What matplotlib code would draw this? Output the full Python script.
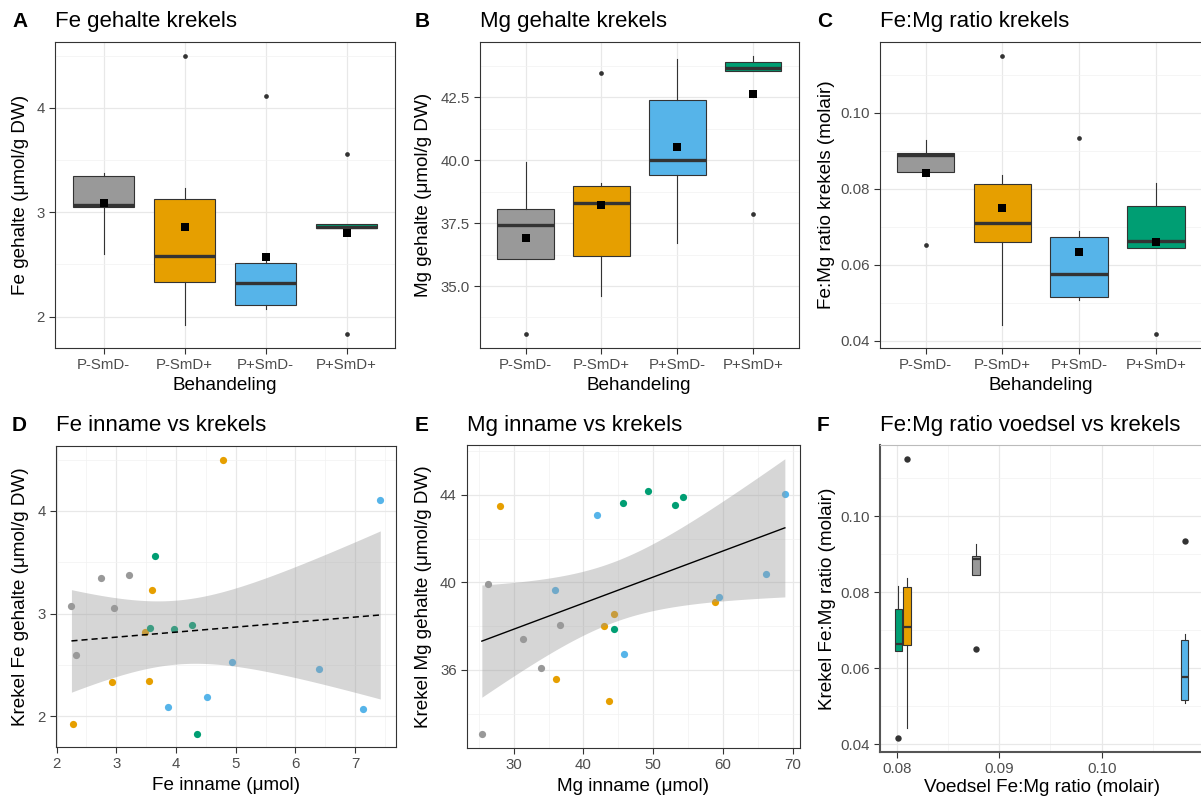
import numpy as np
import matplotlib
matplotlib.use("Agg")
import matplotlib.pyplot as plt

plt.rcParams['font.family'] = ['Liberation Sans', 'DejaVu Sans']

# ---------------- data (per cricket, grouped by treatment) ----------------
groups = ["P-SmD-", "P-SmD+", "P+SmD-", "P+SmD+"]
colors = ["#999999", "#E69F00", "#56B4E9", "#009E73"]

fe_inname = [[2.25, 2.32, 2.75, 2.97, 3.22],
             [2.28, 2.93, 3.48, 3.55, 3.60, 4.78],
             [3.87, 4.52, 4.93, 6.40, 7.13, 7.42],
             [3.57, 3.65, 3.96, 4.26, 4.35]]
fe_gehalte = [[3.07, 2.60, 3.35, 3.05, 3.38],
              [1.92, 2.33, 2.82, 2.34, 3.23, 4.50],
              [2.09, 2.19, 2.53, 2.46, 2.07, 4.11],
              [2.86, 3.56, 2.85, 2.89, 1.83]]
mg_inname = [[25.45, 26.3, 31.4, 33.9, 36.6],
             [28.1, 36.1, 43.0, 43.7, 44.4, 58.85],
             [35.9, 41.96, 45.8, 59.4, 66.2, 68.85],
             [44.4, 45.65, 49.3, 53.06, 54.3]]
mg_gehalte = [[33.08, 39.93, 37.43, 36.08, 38.05],
              [43.48, 35.58, 38.02, 34.60, 38.57, 39.11],
              [39.66, 43.06, 36.72, 39.34, 40.36, 44.03],
              [37.85, 43.64, 44.15, 43.54, 43.88]]
voedsel_ratio = [0.08775, 0.0810, 0.1081, 0.08016]

femg_ratio = [list(np.array(f) / np.array(m)) for f, m in zip(fe_gehalte, mg_gehalte)]

# ---------------- figure helpers ----------------
W, H = 1201, 800
fig = plt.figure(figsize=(W / 100, H / 100), dpi=100)
fig.patch.set_facecolor("white")


def px_axes(l, r, t, b):
    ax = fig.add_axes([l / W, 1 - b / H, (r - l) / W, (b - t) / H])
    ax._px = (l, r, t, b)
    return ax


def style(ax, xminor=None, yminor=None):
    for s in ax.spines.values():
        s.set_color("#333333")
        s.set_linewidth(0.8)
    ax.tick_params(which="major", length=4, width=0.8, color="#333333",
                   labelsize=10.8, labelcolor="#4D4D4D", pad=3.2)
    ax.tick_params(which="minor", length=0)
    if xminor is not None:
        ax.set_xticks(xminor, minor=True)
    if yminor is not None:
        ax.set_yticks(yminor, minor=True)
    ax.grid(which="major", color="#E8E8E8", lw=0.9)
    ax.grid(which="minor", color="#F2F2F2", lw=0.5)
    ax.set_axisbelow(True)


def labels(ax, tag, title, xlabel, ylabel, title_y, ylab_x, xlab_y, tag_x):
    l, r, t, b = ax._px
    fig.text(tag_x / W, 1 - title_y / H, tag, fontsize=15, fontweight="bold",
             ha="left", va="baseline")
    fig.text(l / W, 1 - title_y / H, title, fontsize=16, ha="left", va="baseline")
    ax.set_ylabel(ylabel, fontsize=13.6, va="center")
    ax.yaxis.set_label_coords((ylab_x - l) / (r - l), 0.5)
    ax.set_xlabel(xlabel, fontsize=13.6, va="center")
    ax.xaxis.set_label_coords(0.5, (b - xlab_y) / (b - t))


def boxes(ax, data, pos, width, flier_ms, med_lw, show_mean):
    bp = ax.boxplot(data, positions=pos, widths=width, patch_artist=True,
                    showcaps=False, whis=1.5, manage_ticks=False,
                    boxprops=dict(edgecolor="#333333", linewidth=0.8),
                    whiskerprops=dict(color="#333333", linewidth=0.8),
                    medianprops=dict(color="#333333", linewidth=med_lw),
                    flierprops=dict(marker="o", markersize=flier_ms,
                                    markerfacecolor="#333333",
                                    markeredgecolor="none"))
    for patch, c in zip(bp["boxes"], colors):
        patch.set_facecolor(c)
    if show_mean:
        ax.scatter(pos, [np.mean(d) for d in data], marker="s", s=28,
                   color="black", zorder=6, linewidths=0)


def lm_band(x, y, tval=2.086):
    x = np.asarray(x); y = np.asarray(y)
    n = len(x)
    b1, b0 = np.polyfit(x, y, 1)
    xs = np.linspace(x.min(), x.max(), 100)
    yh = b0 + b1 * xs
    s = np.sqrt(np.sum((y - (b0 + b1 * x)) ** 2) / (n - 2))
    se = s * np.sqrt(1 / n + (xs - x.mean()) ** 2 / np.sum((x - x.mean()) ** 2))
    return xs, yh, yh - tval * se, yh + tval * se


cat_pos = np.arange(1, len(groups) + 1)

# ---------------- A ----------------
axA = px_axes(55, 395.3, 41.7, 348.3)
boxes(axA, fe_gehalte, cat_pos, 0.75, 3.4, 2.4, True)
axA.set_xlim(0.4, 4.6)
axA.set_xticks(cat_pos, groups)
axA.set_yticks([2, 3, 4], ["2", "3", "4"])
style(axA, yminor=[2.5, 3.5, 4.5])
labels(axA, "A", "Fe gehalte krekels", "Behandeling", "Fe gehalte (\u03bcmol/g DW)",
       27, 20.5, 385, 12)

# ---------------- B ----------------
axB = px_axes(480, 798.5, 41.7, 348.3)
boxes(axB, mg_gehalte, cat_pos, 0.75, 3.4, 2.4, True)
axB.set_xlim(0.4, 4.6)
axB.set_xticks(cat_pos, groups)
axB.set_yticks([35, 37.5, 40, 42.5], ["35.0", "37.5", "40.0", "42.5"])
style(axB, yminor=[33.75, 36.25, 38.75, 41.25, 43.75])
labels(axB, "B", "Mg gehalte krekels", "Behandeling", "Mg gehalte (\u03bcmol/g DW)",
       27, 424, 385, 415)

# ---------------- C ----------------
axC = px_axes(879.5, 1202, 41.7, 348.3)
boxes(axC, femg_ratio, cat_pos, 0.75, 3.4, 2.4, True)
axC.set_xlim(0.4, 4.6)
axC.set_xticks(cat_pos, groups)
axC.set_yticks([0.04, 0.06, 0.08, 0.10], ["0.04", "0.06", "0.08", "0.10"])
style(axC, yminor=[0.05, 0.07, 0.09, 0.11])
labels(axC, "C", "Fe:Mg ratio krekels", "Behandeling", "Fe:Mg ratio krekels (molair)",
       27, 826.7, 385, 817)

# ---------------- D ----------------
axD = px_axes(56, 395.7, 446, 747.3)
for xi, yi, c in zip(fe_inname, fe_gehalte, colors):
    axD.scatter(xi, yi, s=27, color=c, linewidths=0, zorder=3)
xall = np.concatenate([np.array(v) for v in fe_inname])
yall = np.concatenate([np.array(v) for v in fe_gehalte])
xs, yh, lo, hi = lm_band(xall, yall)
axD.fill_between(xs, lo, hi, color="#999999", alpha=0.4, linewidth=0, zorder=4)
axD.plot(xs, yh, color="black", lw=1.1, ls=(0, (4, 2.6)), zorder=5)
axD.set_xticks([2, 3, 4, 5, 6, 7], ["2", "3", "4", "5", "6", "7"])
axD.set_yticks([2, 3, 4], ["2", "3", "4"])
style(axD, xminor=[2.5, 3.5, 4.5, 5.5, 6.5, 7.5], yminor=[2.5, 3.5, 4.5])
labels(axD, "D", "Fe inname vs krekels", "Fe inname (\u03bcmol)",
       "Krekel Fe gehalte (\u03bcmol/g DW)", 431, 20.7, 785, 12)

# ---------------- E ----------------
axE = px_axes(466.7, 800, 445, 747.7)
for xi, yi, c in zip(mg_inname, mg_gehalte, colors):
    axE.scatter(xi, yi, s=27, color=c, linewidths=0, zorder=3)
xall = np.concatenate([np.array(v) for v in mg_inname])
yall = np.concatenate([np.array(v) for v in mg_gehalte])
xs, yh, lo, hi = lm_band(xall, yall)
axE.fill_between(xs, lo, hi, color="#999999", alpha=0.4, linewidth=0, zorder=4)
axE.plot(xs, yh, color="black", lw=1.0, zorder=5)
axE.set_xticks([30, 40, 50, 60, 70], ["30", "40", "50", "60", "70"])
axE.set_yticks([36, 40, 44], ["36", "40", "44"])
style(axE, xminor=[25, 35, 45, 55, 65], yminor=[34, 38, 42, 46])
labels(axE, "E", "Mg inname vs krekels", "Mg inname (\u03bcmol)",
       "Krekel Mg gehalte (\u03bcmol/g DW)", 431, 424, 786.7, 415)

# ---------------- F ----------------
axF = px_axes(880, 1203, 445, 751.7)
boxes(axF, femg_ratio, voedsel_ratio, 0.00072, 4.6, 1.6, False)
axF.set_xticks([0.08, 0.09, 0.10], ["0.08", "0.09", "0.10"])
axF.set_yticks([0.04, 0.06, 0.08, 0.10], ["0.04", "0.06", "0.08", "0.10"])
style(axF, xminor=[0.085, 0.095, 0.105], yminor=[0.05, 0.07, 0.09, 0.11])
axF.spines["top"].set_color("#BBBBBB")
for sp in ("left", "bottom"):
    axF.spines[sp].set_color("#555555")
    axF.spines[sp].set_linewidth(1.5)
labels(axF, "F", "Fe:Mg ratio voedsel vs krekels", "Voedsel Fe:Mg ratio (molair)",
       "Krekel Fe:Mg ratio (molair)", 431, 827, 788, 817)

fig.savefig("out.png", dpi=100, facecolor="white")
